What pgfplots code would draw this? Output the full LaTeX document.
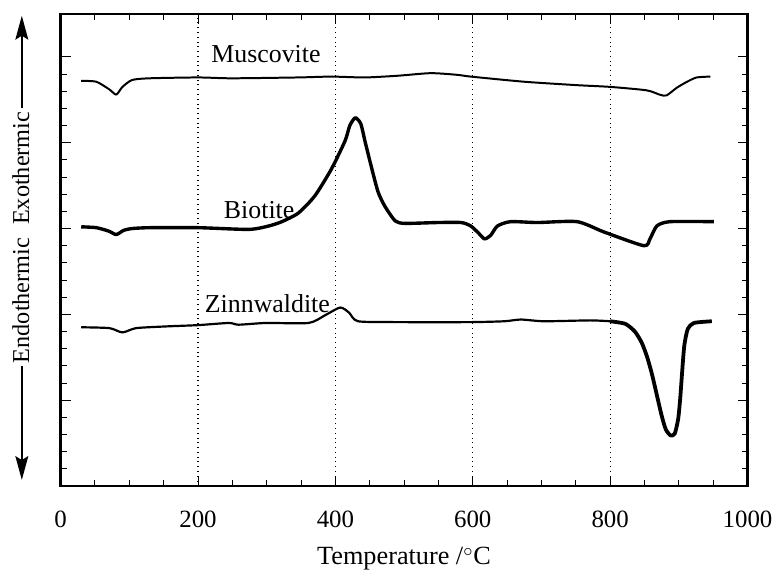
\documentclass[border=0pt]{standalone}
\usepackage{fontspec}
\setmainfont{Liberation Serif}
\usepackage{pgfplots}
\pgfplotsset{compat=1.18}
\usetikzlibrary{arrows.meta,calc}
\begin{document}
\begin{tikzpicture}
\begin{axis}[
  scale only axis,
  width=345.5pt, height=237.5pt,
  xmin=0, xmax=1000, ymin=0, ymax=5.5,
  xtick={0,200,...,1000},
  minor x tick num=3,
  ytick={0,1,...,5},
  minor y tick num=4,
  yticklabels={},
  xmajorgrids,
  major grid style={dotted, line width=0.6pt, black},
  axis line style={line width=1.2pt},
  major tick length=5pt,
  minor tick length=3pt,
  tick style={line width=0.5pt, black},
  /pgf/number format/assume math mode=true,
  /pgf/number format/1000 sep={},
  tick label style={font=\fontsize{12.5}{14}\selectfont},
  xticklabel style={yshift=-9pt},
  xlabel={Temperature /$^\circ$C},
  xlabel style={font=\fontsize{13.2}{15}\selectfont, yshift=-3pt},
  clip=false,
]
\coordinate (bl) at (rel axis cs:0,0);
\coordinate (tr) at (rel axis cs:1,1);
% Muscovite
\addplot[black, line width=1pt, smooth, tension=0.4, line join=round] coordinates {
(30,4.72) (52,4.71) (71,4.62) (81,4.56) (90,4.65) (104,4.73) (129,4.75) (200,4.76)
(249,4.75) (346,4.76) (394,4.77) (443,4.76) (491,4.78) (539,4.81) (578,4.79) (597,4.77)
(675,4.71) (752,4.67) (800,4.65) (853,4.61) (872,4.56) (882,4.55) (897,4.64) (912,4.71)
(926,4.76) (946,4.77)
};
% Biotite
\addplot[black, line width=1.7pt, smooth, tension=0.4, line join=round] coordinates {
(30,3.02) (52,3.01) (70,2.97) (81,2.93) (92,2.98) (104,3.00) (130,3.01) (200,3.01)
(274,2.99) (303,3.03) (322,3.08) (346,3.18) (370,3.38) (394,3.69) (414,4.02) (421,4.20)
(429,4.29) (437,4.22) (443,4.02) (452,3.73) (462,3.43) (472,3.26) (487,3.09) (501,3.06)
(549,3.07) (583,3.07) (597,3.03) (608,2.95) (617,2.88) (626,2.92) (636,3.03) (655,3.08)
(694,3.07) (752,3.08) (791,2.96) (849,2.80) (858,2.88) (868,3.03) (887,3.08)
(951,3.08)
};
% Zinnwaldite
\addplot[black, line width=1.1pt, smooth, tension=0.4, line join=round] coordinates {
(30,1.85) (71,1.84) (90,1.79) (110,1.84) (154,1.86) (200,1.875) (245,1.90) (259,1.88)
(299,1.90) (361,1.90) (385,1.99) (407,2.08) (420,2.02) (433,1.92) (491,1.91) (597,1.91)
(646,1.92) (670,1.94) (704,1.92) (771,1.93) (800,1.92)
};
\addplot[black, line width=1.9pt, smooth, tension=0.4, line join=round] coordinates {
(800,1.92) (822,1.89) (836,1.80) (846,1.67) (854,1.50) (861,1.30) (868,1.06) (875,0.82)
(881,0.66) (888,0.59) (894,0.61) (899,0.78) (902,1.02) (905,1.35) (908,1.64) (913,1.83)
(922,1.90) (948,1.92)
};
\node[font=\fontsize{13}{15}\selectfont] at (axis cs:299,5.03) {Muscovite};
\node[font=\fontsize{13}{15}\selectfont] at (axis cs:289,3.22) {Biotite};
\node[font=\fontsize{13}{15}\selectfont] at (axis cs:301,2.13) {Zinnwaldite};
% y label with arrows
\node[rotate=90, font=\fontsize{12.2}{14}\selectfont] at (axis description cs:-0.058,0.673) {Exothermic};
\node[rotate=90, font=\fontsize{12.2}{14}\selectfont] at (axis description cs:-0.058,0.393) {Endothermic};
\draw[line width=0.8pt, -{Stealth[length=12pt,width=6.5pt,inset=2pt]}] (axis description cs:-0.0565,0.80) -- (axis description cs:-0.0565,0.996);
\draw[line width=0.8pt, -{Stealth[length=12pt,width=6.5pt,inset=2pt]}] (axis description cs:-0.0565,0.255) -- (axis description cs:-0.0565,0.013);
\end{axis}
\path ($(bl)+(-30.5pt,-39.5pt)$) rectangle ($(tr)+(13.5pt,7pt)$);
\end{tikzpicture}
\end{document}
